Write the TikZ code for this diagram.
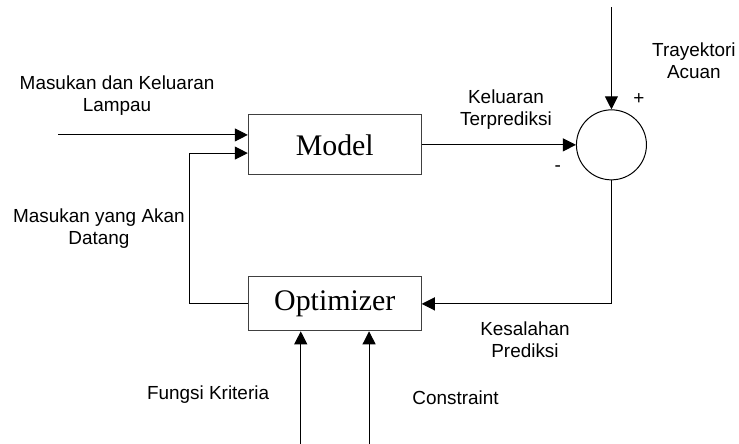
\documentclass[tikz,border=0pt]{standalone}
\usepackage{fontspec}
\setmainfont{Liberation Sans}
\newfontfamily\blokfont{Liberation Serif}
\usetikzlibrary{arrows.meta}

\begin{document}
\begin{tikzpicture}[
    blok/.style={draw=black!75,line width=1pt,minimum width=6.1cm,font=\blokfont\fontsize{30}{36}\selectfont},
    lbl/.style={align=center,inner sep=0pt,font=\fontsize{19}{22}\selectfont},
    panah/.style={-{Triangle[length=0.46cm,width=0.46cm]},line width=1pt}
  ]
      \useasboundingbox (0,0) rectangle (26.07,15.66);

      % blocks
      \node[blok,minimum height=2.12cm] (mdl) at (11.81,10.55) {Model};
      \node[blok,minimum height=1.90cm] (opt) at (11.81,4.94) {Optimizer};
      \node[draw,circle,line width=1pt,minimum size=2.47cm] (sum) at (21.57,10.55) {};

      \coordinate (masuk) at (2.05,10.90);
      \coordinate (siku) at (6.70,10.26);
      \coordinate (acuan) at (21.57,15.41);
      \coordinate (fk) at (10.61,0);
      \coordinate (cs) at (13.02,0);

      % connections
      \draw[panah] (masuk) -- (masuk -| mdl.west);
      \draw[panah] (opt.west) -| (siku) -- (siku -| mdl.west);
      \draw[panah] (mdl.east) -- (sum.west);
      \draw[panah] (acuan) -- (sum.north);
      \draw[panah] (sum.south) |- (opt.east);
      \draw[panah] (fk) -- (fk |- opt.south);
      \draw[panah] (cs) -- (cs |- opt.south);

      % labels
      \node[lbl] (l1) at (4.13,12.28) {Masukan dan Keluaran\\Lampau};
      \node[lbl] (l2) at (3.49,7.58) {Masukan yang Akan\\Datang};
      \node[lbl] (l3) at (17.85,11.78) {Keluaran\\Terprediksi};
      \node[lbl] (l4) at (24.48,13.51) {Trayektori\\Acuan};
      \node[lbl] (plus) at (22.54,12.17) {+};
      \node[lbl] (minus) at (19.68,9.70) {-};
      \node[lbl] (l5) at (18.52,3.67) {Kesalahan\\Prediksi};
      \node[lbl] (l6) at (7.34,1.73) {Fungsi Kriteria};
      \node[lbl] (l7) at (16.07,1.62) {Constraint};
    \end{tikzpicture}
\end{document}
